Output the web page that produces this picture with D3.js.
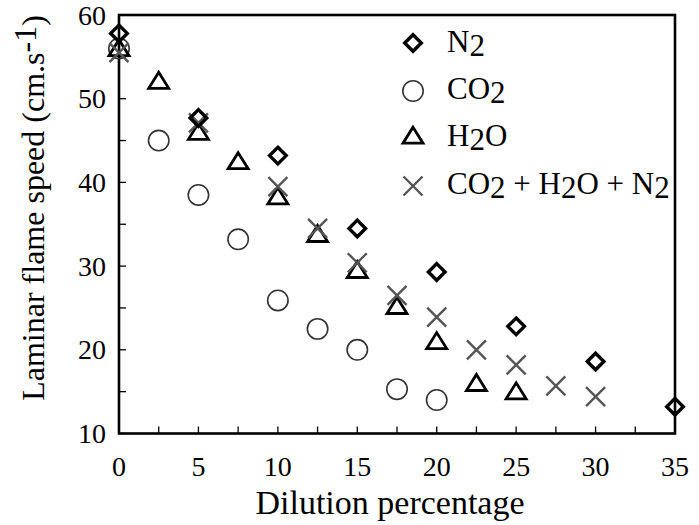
<!DOCTYPE html>
<html>
<head>
<meta charset="utf-8">
<script src="https://cdn.jsdelivr.net/npm/d3@7"></script>
<style>
  html, body { margin: 0; padding: 0; background: #fff; }
  svg { display: block; }
  text { font-family: "Liberation Serif", "Times New Roman", serif; fill: #000; }
</style>
</head>
<body>
<svg id="chart" width="699" height="525"></svg>
<script>
// ---- Data ----
const n2X = [0, 5, 10, 15, 20, 25, 30, 35];
const n2Y = [57.8, 47.7, 43.2, 34.5, 29.3, 22.8, 18.6, 13.2];

const co2X = [0, 2.5, 5, 7.5, 10, 12.5, 15, 17.5, 20];
const co2Y = [56.0, 45.0, 38.5, 33.2, 25.9, 22.5, 20.0, 15.3, 14.0];

const h2oX = [0, 2.5, 5, 7.5, 10, 12.5, 15, 17.5, 20, 22.5, 25];
const h2oY = [56.0, 52.1, 46.0, 42.5, 38.3, 33.8, 29.5, 25.2, 21.0, 16.0, 15.0];

const mixX = [0, 5, 10, 12.5, 15, 17.5, 20, 22.5, 25, 27.5, 30];
const mixY = [55.5, 47.1, 39.5, 34.5, 30.4, 26.5, 23.9, 20.0, 18.2, 15.7, 14.4];

const xTickLabels = [0, 5, 10, 15, 20, 25, 30, 35];
const yTickLabels = [10, 20, 30, 40, 50, 60];

const xTitle = "Dilution percentage";

// ---- Layout ----
const svg = d3.select("#chart");
const mLeft = 119, mRight = 675, mTop = 15, mBottom = 433.5;

const x = d3.scaleLinear().domain([0, 35]).range([mLeft, mRight]);
const y = d3.scaleLinear().domain([10, 60]).range([mBottom, mTop]);

// Ticks (inside)
const tickLen = 7;
const minorX = d3.range(0, 35.01, 2.5);
const minorY = d3.range(10, 60.01, 5);

svg.append("g").selectAll("line").data(minorX).join("line")
  .attr("x1", d => x(d)).attr("x2", d => x(d))
  .attr("y1", mBottom).attr("y2", mBottom - tickLen)
  .attr("stroke", "#000").attr("stroke-width", 1.3);

svg.append("g").selectAll("line").data(minorY).join("line")
  .attr("x1", mLeft).attr("x2", mLeft + tickLen)
  .attr("y1", d => y(d)).attr("y2", d => y(d))
  .attr("stroke", "#000").attr("stroke-width", 1.3);

// Frame
svg.append("rect")
  .attr("x", mLeft).attr("y", mTop)
  .attr("width", mRight - mLeft).attr("height", mBottom - mTop)
  .attr("fill", "none").attr("stroke", "#000").attr("stroke-width", 2.6);

// Tick labels
svg.append("g").selectAll("text").data(xTickLabels).join("text")
  .attr("x", d => x(d)).attr("y", 476)
  .attr("text-anchor", "middle")
  .attr("font-size", 28)
  .text(d => d);

svg.append("g").selectAll("text").data(yTickLabels).join("text")
  .attr("x", 106).attr("y", d => y(d) + 9.5)
  .attr("text-anchor", "end")
  .attr("font-size", 28)
  .text(d => d);

// Axis titles
svg.append("text")
  .attr("x", 390).attr("y", 514)
  .attr("text-anchor", "middle")
  .attr("font-size", 34)
  .text(xTitle);

const yt = svg.append("text")
  .attr("transform", "translate(44,208) rotate(-90)")
  .attr("text-anchor", "middle")
  .attr("font-size", 32);
yt.append("tspan").text("Laminar flame speed (cm.s");
yt.append("tspan").attr("dy", -8).text("-1");
yt.append("tspan").attr("dy", 8).text(")");

// ---- Marker drawers ----
function diamond(g, cx, cy) {
  const r = 8.3;
  g.append("path")
    .attr("d", `M${cx},${cy - r}L${cx + r},${cy}L${cx},${cy + r}L${cx - r},${cy}Z`)
    .attr("fill", "none").attr("stroke", "#000").attr("stroke-width", 3.4);
}
function circle(g, cx, cy) {
  g.append("circle").attr("cx", cx).attr("cy", cy).attr("r", 10.2)
    .attr("fill", "none").attr("stroke", "#333").attr("stroke-width", 1.6);
}
function triangle(g, cx, cy) {
  const w = 10, h = 16;
  g.append("path")
    .attr("d", `M${cx},${cy - h * 0.55}L${cx + w},${cy + h * 0.45}L${cx - w},${cy + h * 0.45}Z`)
    .attr("fill", "none").attr("stroke", "#000").attr("stroke-width", 2.8)
    .attr("stroke-linejoin", "miter");
}
function cross(g, cx, cy) {
  const r = 9.5;
  g.append("path")
    .attr("d", `M${cx - r},${cy - r}L${cx + r},${cy + r}M${cx - r},${cy + r}L${cx + r},${cy - r}`)
    .attr("fill", "none").attr("stroke", "#555").attr("stroke-width", 2.4);
}

const series = [
  { xs: co2X, ys: co2Y, draw: circle },
  { xs: h2oX, ys: h2oY, draw: triangle },
  { xs: mixX, ys: mixY, draw: cross },
  { xs: n2X, ys: n2Y, draw: diamond }
];

const marks = svg.append("g");
series.forEach(s => {
  const g = marks.append("g");
  s.xs.forEach((xv, i) => s.draw(g, x(xv), y(s.ys[i])));
});

// ---- Legend ----
const legendItems = [
  { parts: [["N", 0], ["2", 1]], draw: diamond },
  { parts: [["CO", 0], ["2", 1]], draw: circle },
  { parts: [["H", 0], ["2", 1], ["O", 0]], draw: triangle },
  { parts: [["CO", 0], ["2", 1], [" + H", 0], ["2", 1], ["O + N", 0], ["2", 1]], draw: cross }
];
const legY = [43, 91, 136, 186];
const legBase = [52, 99, 146, 194];
const lg = svg.append("g");
legendItems.forEach((it, i) => {
  it.draw(lg, 413, legY[i]);
  const t = lg.append("text").attr("x", 447).attr("y", legBase[i]).attr("font-size", 31);
  let shifted = 0;
  it.parts.forEach(([s, sub]) => {
    const dy = sub ? 4 - shifted : -shifted;
    shifted = sub ? 4 : 0;
    t.append("tspan").attr("dy", dy).text(s);
  });
});
</script>
</body>
</html>
